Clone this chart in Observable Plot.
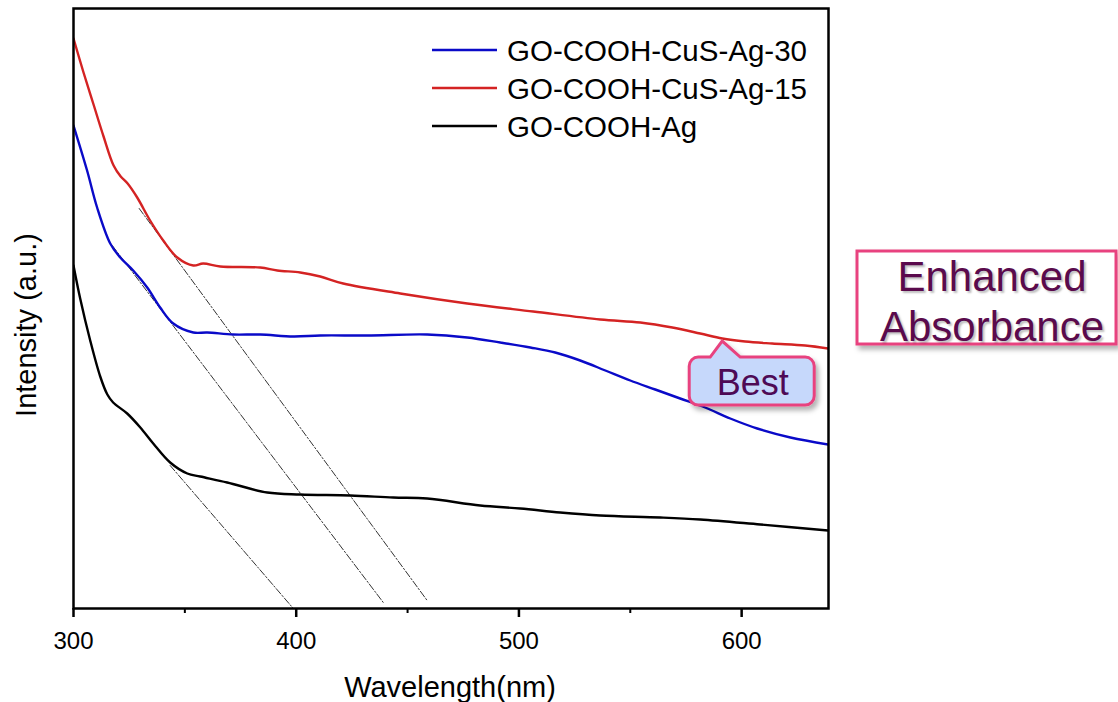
<!DOCTYPE html>
<html>
<head>
<meta charset="utf-8">
<script src="https://cdn.jsdelivr.net/npm/d3@7"></script>
<script src="https://cdn.jsdelivr.net/npm/@observablehq/plot@0.6"></script>
<style>
  html, body { margin: 0; padding: 0; background: #fff; }
  svg { display: block; }
</style>
</head>
<body>
<div id="chart"></div>
<script>
// Series names
const seriesNames = ["GO-COOH-CuS-Ag-30", "GO-COOH-CuS-Ag-15", "GO-COOH-Ag"];
const seriesColors = ["#0a0ac8", "#d42323", "#000000"];

// Wavelength (nm) / intensity (a.u.)
const wl30 = [300, 306.1, 310.6, 316.5, 321.0, 326.8, 333.1, 338.9, 344.8, 353.8, 360.0, 371.7, 383.8, 398.7, 410.8, 431.9, 458.8, 476.8, 491.6, 505.1, 516.3, 527.5, 538.8, 550.0, 561.2, 572.4, 583.6, 594.9, 607.0, 621.9, 639];
const int30 = [0.966, 0.876, 0.802, 0.730, 0.702, 0.676, 0.642, 0.602, 0.570, 0.552, 0.552, 0.548, 0.548, 0.544, 0.546, 0.546, 0.548, 0.542, 0.532, 0.522, 0.512, 0.496, 0.476, 0.456, 0.438, 0.420, 0.402, 0.380, 0.360, 0.342, 0.328];

const wl15 = [300, 304.5, 309.0, 313.5, 318.0, 321.2, 324.3, 328.6, 334.4, 340.3, 346.6, 353.8, 358.2, 365.9, 383.8, 391.5, 401.8, 410.8, 421.1, 446.7, 476.8, 506.4, 536.5, 554.5, 568.9, 581.4, 591.3, 601.6, 613.7, 628.5, 639];
const int15 = [1.140, 1.072, 1.008, 0.944, 0.886, 0.864, 0.850, 0.822, 0.776, 0.736, 0.702, 0.686, 0.690, 0.684, 0.682, 0.676, 0.672, 0.664, 0.650, 0.630, 0.610, 0.594, 0.578, 0.572, 0.562, 0.550, 0.540, 0.534, 0.530, 0.526, 0.520];

const wlAg = [300, 303.0, 307.5, 312.0, 315.2, 317.8, 324.1, 330.0, 335.8, 343.4, 351.1, 356.9, 369.0, 387.0, 401.8, 424.3, 443.6, 458.8, 482.6, 500.6, 518.5, 536.5, 563.5, 581.4, 608.4, 639];
const intAg = [0.686, 0.620, 0.536, 0.464, 0.428, 0.412, 0.390, 0.362, 0.330, 0.292, 0.270, 0.264, 0.252, 0.232, 0.228, 0.226, 0.222, 0.220, 0.206, 0.200, 0.192, 0.186, 0.182, 0.178, 0.168, 0.156];

// Tangent (band-edge) lines: [start, end] wavelength and intensity
const tangentWl  = [[329.5, 458.8], [317.4, 439.1], [343.4, 398.7]];
const tangentInt = [[0.800, 0.016], [0.726, 0.012], [0.286, 0.0]];

const majorTicks = [300, 400, 500, 600];
const minorTicks = [350, 450, 550];
const xLabel = "Wavelength(nm)";
const yLabel = "Intensity (a.u.)";
const annotationBest = "Best";
const annotationBestWl = 591.5;
const annotationLines = ["Enhanced", "Absorbance"];

const toRows = (wl, it, name) => wl.map((w, i) => ({wl: w, v: it[i], name}));
const rows = [
  ...toRows(wl30, int30, seriesNames[0]),
  ...toRows(wl15, int15, seriesNames[1]),
  ...toRows(wlAg, intAg, seriesNames[2])
];
const tanRows = tangentWl.flatMap((p, k) => p.map((w, i) => ({wl: w, v: tangentInt[k][i], k})));

const font = "'Liberation Sans', Arial, Helvetica, sans-serif";

const chart = Plot.plot({
  width: 1118,
  height: 702,
  marginLeft: 73,
  marginRight: 290,
  marginTop: 8,
  marginBottom: 94,
  style: {fontFamily: font, background: "#fff", overflow: "visible"},
  x: {domain: [300, 639]},
  y: {domain: [0, 1.2], axis: null},
  color: {domain: seriesNames, range: seriesColors},
  marks: [
    Plot.line(tanRows, {x: "wl", y: "v", z: "k", stroke: "#333", strokeWidth: 1, strokeDasharray: "7,2,1.5,2"}),
    Plot.line(rows, {x: "wl", y: "v", z: "name", stroke: "name", strokeWidth: 2.4, curve: "catmull-rom", clip: true}),
    Plot.frame({stroke: "#000", strokeWidth: 2.5}),
    Plot.axisX({ticks: majorTicks, tickSize: 9, tickPadding: 14, tickFormat: d3.format("d"), fontSize: 24, label: null, stroke: "#000", strokeWidth: 2.5, color: "#000"}),
    Plot.axisX({ticks: minorTicks, tickSize: 5, tickFormat: () => "", label: null, strokeWidth: 2})
  ]
});

document.getElementById("chart").appendChild(chart);

const svg = d3.select(chart);
const xs = chart.scale("x");
const ys = chart.scale("y");

// Axis titles
svg.append("text").attr("x", 450).attr("y", 697).attr("text-anchor", "middle")
  .attr("font-family", font).attr("font-size", 29).attr("fill", "#000").text(xLabel);
svg.append("text").attr("transform", "translate(36,325) rotate(-90)").attr("text-anchor", "middle")
  .attr("font-family", font).attr("font-size", 29).attr("fill", "#000").text(yLabel);

// defs: drop shadow
const defs = svg.append("defs");
const f = defs.append("filter").attr("id", "shadow").attr("x", "-20%").attr("y", "-20%").attr("width", "150%").attr("height", "160%");
f.append("feDropShadow").attr("dx", 3).attr("dy", 4).attr("stdDeviation", 2.5).attr("flood-color", "#000").attr("flood-opacity", 0.3);

// Legend
const leg = svg.append("g");
seriesNames.forEach((n, i) => {
  const y = 50 + i * 38;
  leg.append("line").attr("x1", 432).attr("x2", 497).attr("y1", y).attr("y2", y)
    .attr("stroke", seriesColors[i]).attr("stroke-width", 2.4);
  leg.append("text").attr("x", 507).attr("y", y + 11).attr("text-anchor", "start")
    .attr("font-family", font).attr("font-size", 29.5).attr("fill", "#000").text(n);
});

// "Best" callout pointing to the red curve
const tipX = xs.apply(annotationBestWl);
const redAt = d3.scaleLinear().domain(wl15).range(int15);
const tipY = ys.apply(redAt(annotationBestWl)) + 3;
const bx0 = tipX - 33, bx1 = tipX + 92, by0 = tipY + 16, by1 = tipY + 64, r = 9;
const px0 = tipX - 12, px1 = tipX + 18;
const p = d3.path();
p.moveTo(bx0 + r, by0);
p.lineTo(px0, by0);
p.lineTo(tipX, tipY);
p.lineTo(px1, by0);
p.lineTo(bx1 - r, by0);
p.arcTo(bx1, by0, bx1, by0 + r, r);
p.lineTo(bx1, by1 - r);
p.arcTo(bx1, by1, bx1 - r, by1, r);
p.lineTo(bx0 + r, by1);
p.arcTo(bx0, by1, bx0, by1 - r, r);
p.lineTo(bx0, by0 + r);
p.arcTo(bx0, by0, bx0 + r, by0, r);
p.closePath();
svg.append("path").attr("d", p.toString()).attr("fill", "#c6d8fb").attr("stroke", "#e8437f")
  .attr("stroke-width", 3).attr("filter", "url(#shadow)");
svg.append("text").attr("x", (bx0 + bx1) / 2 + 1).attr("y", by1 - 10).attr("text-anchor", "middle")
  .attr("font-family", font).attr("font-size", 36).attr("fill", "#4e0a55").text(annotationBest);

// "Enhanced Absorbance" box
svg.append("rect").attr("x", 857).attr("y", 251).attr("width", 259).attr("height", 93)
  .attr("fill", "#fff").attr("stroke", "#e8437f").attr("stroke-width", 3).attr("filter", "url(#shadow)");
annotationLines.forEach((t, i) => {
  svg.append("text").attr("x", 992).attr("y", 291 + i * 50).attr("text-anchor", "middle")
    .attr("font-family", font).attr("font-size", 42).attr("fill", "#5a0a4c")
    .style("text-shadow", "2px 2px 2px rgba(0,0,0,0.25)").text(t);
});
</script>
</body>
</html>
